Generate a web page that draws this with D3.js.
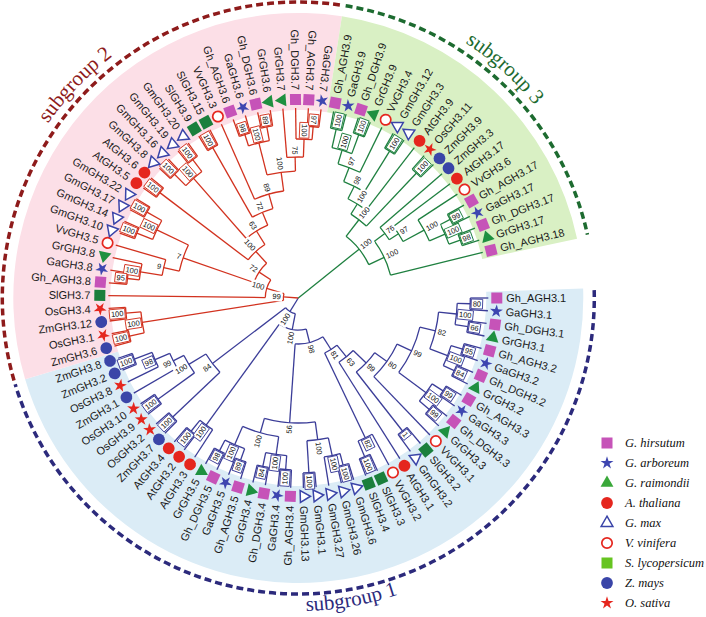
<!DOCTYPE html>
<html><head><meta charset="utf-8">
<script src="https://cdn.jsdelivr.net/npm/d3@7"></script>
<style>body{margin:0;background:#fff}</style>
</head><body>
<svg id="c" width="706" height="617"></svg>
<script>
// ---------------- DATA ----------------
const species = ["G. hirsutum","G. arboreum","G. raimondii","A. thaliana","G. max","V. vinifera","S. lycopersicum","Z. mays","O. sativa"];
const speciesPrefix = ["Gh_","Ga","Gr","At","Gm","Vv","Sl","Zm","Os"];
const subgroupNames = ["subgroup 1","subgroup 2","subgroup 3"];

// Newick clades: internal labels = bootstrap values, numbers after ':' = relative branch lengths
// subgroup 1
const s1Cot1 = "((Gh_AGH3.1,GaGH3.1)80:0.13,(Gh_DGH3.1,GrGH3.1)66:0.13)100:0.18";
const s1Cot2 = "((Gh_AGH3.2,GaGH3.2)95:0.12,(Gh_DGH3.2,GrGH3.2)84:0.12)100:0.19";
const s1Cot3 = "((Gh_AGH3.3,GaGH3.3)99:0.13,(Gh_DGH3.3,GrGH3.3)99:0.13)100:0.34";
const s1N82b = "(VvGH3.2,(SlGH3.3,SlGH3.4)100:0.17)82:0.94";
const s1Gm   = "(((GmGH3.6,GmGH3.26)100:0.12,GmGH3.27)100:0.18,(GmGH3.1,GmGH3.13)100:0.32)100:0.18";
const s1Cot45= "(((Gh_AGH3.4,GaGH3.4)100:0.14,(Gh_DGH3.4,GrGH3.4)84:0.14)100:0.18,((Gh_AGH3.5,GaGH3.5)89:0.12,(Gh_DGH3.5,GrGH3.5)98:0.12)100:0.20)100:0.15";
const s1At   = "(AtGH3.3,(AtGH3.2,AtGH3.4)100:0.14)100:1.25";
const s1Mono = "((ZmGH3.7,OsGH3.2)100:0.65,((OsGH3.9,OsGH3.10)100:0.45,(ZmGH3.1,(OsGH3.8,(ZmGH3.2,ZmGH3.8)100:0.19)98:0.16)99:0.12)100:0.20)84:0.92";
// subgroup 2
const s2Mono = "((ZmGH3.6,OsGH3.1)100:0.15,(ZmGH3.12,OsGH3.4)100:0.15)100:1.43";
const s2Cot8 = "((Gh_AGH3.8,GaGH3.8)95:0.12,GrGH3.8)100:0.22";
const s2GmA  = "((GmGH3.10,GmGH3.14)100:0.17,(GmGH3.17,GmGH3.22)100:0.17)100:0.35";
const s2GmB  = "((GmGH3.8,GmGH3.16)100:0.16,(GmGH3.19,GmGH3.20)100:0.15)100:0.80";
const s2Cot6 = "((Gh_AGH3.6,GaGH3.6)98:0.12,(Gh_DGH3.6,GrGH3.6)89:0.14)100:0.33";
const s2Cot7 = "(GrGH3.7,(Gh_DGH3.7,(Gh_AGH3.7,GaGH3.7)97:0.13)100:0.18)75:0.14";
// subgroup 3
const s3Cot9 = "((Gh_AGH3.9,GaGH3.9)100:0.19,(Gh_DGH3.9,GrGH3.9)100:0.20)100:0.14";
const s3Cot17= "((Gh_AGH3.17,GaGH3.17)99:0.11,(Gh_DGH3.17,GrGH3.17)98:0.12)100:0.17";

const sub1 = "((((((((("+s1Cot1+","+s1Cot2+")82:0.16,"+s1Cot3+")99:0.16,VvGH3.1)80:0.15,(SlGH3.2,GmGH3.2)1:0.75)99:0.18,AtGH3.1)63:0.15,"+s1N82b+")81:0.15,("+s1Gm+","+s1Cot45+")56:0.79)98:0.14,"+s1At+")100:0.16,"+s1Mono+")100:0.16";
const sub2 = "("+s2Mono+",(SlGH3.7,((("+s2Cot8+",VvGH3.5)9:0.16,"+s2GmA+")7:0.75,((AtGH3.5,AtGH3.6)100:1.11,("+s2GmB+",((SlGH3.9,SlGH3.15)100:0.80,(VvGH3.3,("+s2Cot6+","+s2Cot7+")100:0.19)89:0.15)72:0.14)63:0.16)100:0.16)72:0.14)100:0.18)99:0.15";
const sub3 = "((((("+s3Cot9+",VvGH3.4)97:0.15,(GmGH3.12,GmGH3.3)100:0.48)98:0.14,AtGH3.9)100:0.12,(OsGH3.11,ZmGH3.9)100:0.73)100:0.21,((ZmGH3.3,(AtGH3.17,(VvGH3.6,"+s3Cot17+")100:0.24)97:0.11)76:0.13,Gh_AGH3.18)100:0.17)100:0.78";
const newick = "("+sub1+","+sub2+","+sub3+");";

// ---------------- STYLE ----------------
const W=706, H=617, cx=298.3, cy=298;
const branchColors = ["#3b3d98","#d2321f","#1f8040"];
const bandColors   = ["#dbecf6","#fcdfe7","#d9f0c4"];
const dashColors   = ["#2c2a7c","#8e1b1b","#1d6b30"];
const spColors = ["#c653b8","#3e46b0","#1e9040","#e5261e","#3a44a8","#e5261e","#1b7f3c","#3a45a8","#e5261e"];
const legendColors = ["#c653b8","#3e46b0","#3aa83a","#e5261e","#3a44a8","#e5261e","#66c421","#3a45a8","#e5261e"];
const deg = Math.PI/180;

// ---------------- PARSE ----------------
function parseNewick(s){
  let i=0;
  function node(){
    const n={};
    if(s[i]==='('){
      n.children=[]; i++;
      while(true){ n.children.push(node()); if(s[i]===','){i++;continue;} break; }
      i++;
    }
    let name=''; while(i<s.length && !',):;'.includes(s[i])) name+=s[i++];
    let len=0;
    if(s[i]===':'){ i++; let num=''; while(i<s.length && !',);'.includes(s[i])) num+=s[i++]; len=+num; }
    if(n.children) n.support=name; else n.name=name;
    n.length=len; return n;
  }
  return node();
}

const root = d3.hierarchy(parseNewick(newick), d=>d.children);
const leaves = root.leaves();
const angle = d3.scaleLinear().domain([0, leaves.length-1]).range([0, 346.1]);
const rScale = d3.scaleLinear().domain([0, 1.9]).range([0, 190]);
const step = angle(1)-angle(0);
leaves.forEach((l,i)=>{ l.ang=angle(i); });
root.eachBefore(n=>{ n.dep = n.parent ? n.parent.dep + n.data.length : 0; });
root.eachAfter(n=>{
  if(n.children){ n.ang=(n.children[0].ang+n.children[n.children.length-1].ang)/2; n.r=rScale(n.dep); }
  else n.r=rScale(1.9);
});
root.r=0;
root.children.forEach((c,i)=>c.each(n=>n.sg=i));

const P=(r,a)=>[cx+r*Math.cos(a*deg), cy+r*Math.sin(a*deg)];
function arcPath(r,a0,a1){
  const p0=P(r,a0), p1=P(r,a1);
  return `M${p0[0]},${p0[1]}A${r},${r} 0 ${(a1-a0)>180?1:0} 1 ${p1[0]},${p1[1]}`;
}
function spOf(name){ return speciesPrefix.findIndex(p=>name.startsWith(p)); }
const flip = a => (a>90 && a<279);

const svg=d3.select("#c");

// ---------------- BANDS ----------------
const bandArc = d3.arc().innerRadius(188).outerRadius(285);
root.children.forEach((c,i)=>{
  const ls=c.leaves();
  const a0=ls[0].ang-step/2, a1=ls[ls.length-1].ang+step/2;
  svg.append("path").attr("transform",`translate(${cx},${cy})`)
    .attr("d",bandArc({startAngle:(a0+90)*deg,endAngle:(a1+90)*deg}))
    .attr("fill",bandColors[i]);
  svg.append("path").attr("d",arcPath(296,a0+0.4,a1-0.4))
    .attr("fill","none").attr("stroke",dashColors[i]).attr("stroke-width",3.5)
    .attr("stroke-dasharray","7,4");
});

// ---------------- SUBGROUP TITLES ----------------
const titleSpec=[{a:80,r:313,ccw:true},{a:223.7,r:305,ccw:false},{a:312,r:305,ccw:false}];
titleSpec.forEach((t,i)=>{
  const id="tp"+i;
  const a0=t.a-30, a1=t.a+30;
  let d;
  if(t.ccw){ const p0=P(t.r,a1), p1=P(t.r,a0); d=`M${p0[0]},${p0[1]}A${t.r},${t.r} 0 0 0 ${p1[0]},${p1[1]}`; }
  else d=arcPath(t.r,a0,a1);
  svg.append("path").attr("id",id).attr("d",d).attr("fill","none");
  svg.append("text").attr("font-family","Liberation Serif, Times New Roman, serif").attr("font-size",21)
    .attr("fill",dashColors[i])
    .append("textPath").attr("href","#"+id).attr("startOffset","50%").attr("text-anchor","middle")
    .text(subgroupNames[i]);
});

// ---------------- BRANCHES ----------------
const gB=svg.append("g").attr("fill","none").attr("stroke-width",1.3);
root.descendants().forEach(n=>{
  if(n.parent){
    const p0=P(n.parent.r,n.ang), p1=P(n.r,n.ang);
    gB.append("path").attr("d",`M${p0[0]},${p0[1]}L${p1[0]},${p1[1]}`).attr("stroke",branchColors[n.sg]);
    if(n.children){
      gB.append("path").attr("d",arcPath(n.r,n.children[0].ang,n.children[n.children.length-1].ang))
        .attr("stroke",branchColors[n.sg]);
    }
  }
});

// ---------------- BOOTSTRAP LABELS ----------------
const gS=svg.append("g").attr("font-family","Liberation Sans, Arial, sans-serif").attr("font-size",7.5);
root.descendants().filter(n=>n.children && n.parent).forEach(n=>{
  const txt=n.data.support; const w=txt.length*4.2+3;
  const rc=n.r+w/2+1; const p=P(rc,n.ang);
  const rot = flip(n.ang)? n.ang+180 : n.ang;
  const g=gS.append("g").attr("transform",`translate(${p[0]},${p[1]}) rotate(${rot})`);
  g.append("rect").attr("x",-w/2).attr("y",-4.8).attr("width",w).attr("height",9.6)
    .attr("fill","#fff").attr("stroke", n.r>=145? branchColors[n.sg]:"none").attr("stroke-width",0.9);
  g.append("text").attr("text-anchor","middle").attr("dy","0.35em").attr("fill","#111").text(txt);
});

// ---------------- MARKERS ----------------
function drawMarker(g, sp, color){
  if(sp===0||sp===6) g.append("rect").attr("x",-5.5).attr("y",-5.5).attr("width",11).attr("height",11).attr("fill",color);
  else if(sp===1||sp===8) g.append("path").attr("d",d3.symbol(d3.symbolStar,52)()).attr("fill",color);
  else if(sp===2) g.append("path").attr("d",d3.symbol(d3.symbolTriangle,72)()).attr("fill",color);
  else if(sp===3||sp===7) g.append("circle").attr("r",5.9).attr("fill",color);
  else if(sp===4) g.append("path").attr("d",d3.symbol(d3.symbolTriangle,60)()).attr("fill","#fff").attr("stroke",color).attr("stroke-width",1.5);
  else if(sp===5) g.append("circle").attr("r",5.2).attr("fill","#fff").attr("stroke",color).attr("stroke-width",1.7);
}
const gM=svg.append("g");
leaves.forEach(l=>{
  const sp=spOf(l.data.name); const p=P(198.5,l.ang);
  drawMarker(gM.append("g").attr("transform",`translate(${p[0]},${p[1]}) rotate(${l.ang})`), sp, spColors[sp]);
});

// ---------------- LEAF LABELS ----------------
const gT=svg.append("g").attr("font-family","Liberation Sans, Arial, sans-serif").attr("font-size",11).attr("fill","#1a1a1a");
leaves.forEach(l=>{
  const p=P(208,l.ang); const f=flip(l.ang);
  gT.append("text").attr("transform",`translate(${p[0]},${p[1]}) rotate(${f?l.ang+180:l.ang})`)
    .attr("text-anchor",f?"end":"start").attr("dy","0.35em").text(l.data.name);
});

// ---------------- LEGEND ----------------
const gLg=svg.append("g");
species.forEach((s,i)=>{
  const y=443+i*20;
  drawMarker(gLg.append("g").attr("transform",`translate(607,${y})`), i, legendColors[i]);
  gLg.append("text").attr("x",625).attr("y",y).attr("dy","0.35em")
    .attr("font-family","Liberation Serif, Times New Roman, serif").attr("font-style","italic")
    .attr("font-size",12.5).attr("fill","#111").text(s);
});
</script>
</body></html>
